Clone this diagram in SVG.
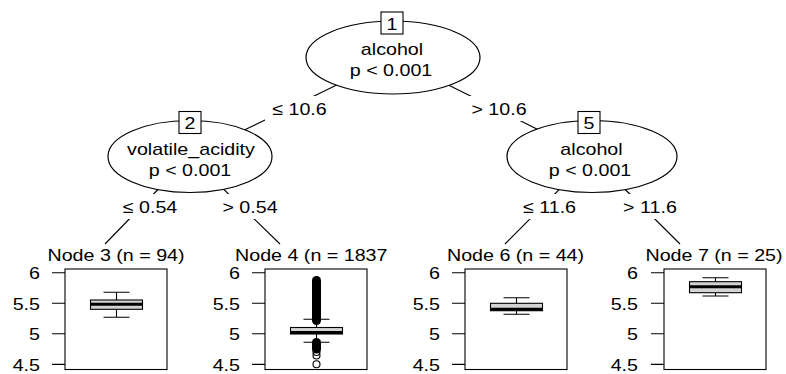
<svg xmlns="http://www.w3.org/2000/svg" width="786" height="374" viewBox="0 0 786 374">
<style>
.t{font-family:"Liberation Sans",Arial,Helvetica,sans-serif;font-size:17.2px;fill:#000}
.e{text-anchor:end}
.m{text-anchor:middle}
.ln{stroke:#000;stroke-width:1.1;fill:none}
.ell{fill:#fff;stroke:#000;stroke-width:1.2}
.nb{fill:#fff;stroke:#000;stroke-width:1.1}
.bg{fill:#fff}
.panel{fill:none;stroke:#000;stroke-width:1.1}
.iqr{fill:#d3d3d3;stroke:#000;stroke-width:1.1}
.med{stroke:#000;stroke-width:3}
.out{fill:none;stroke:#000;stroke-width:1.1}
.blob{stroke:#000;stroke-width:9;stroke-linecap:round}
</style>
<rect width="786" height="374" fill="#fff"/>
<g id="connectors">
  <line class="ln" x1="393" y1="57.5" x2="190" y2="156.5"/>
  <line class="ln" x1="393" y1="57.5" x2="592" y2="156.5"/>
  <line class="ln" x1="190" y1="156.5" x2="105" y2="244"/>
  <line class="ln" x1="190" y1="156.5" x2="280" y2="244"/>
  <line class="ln" x1="592" y1="156.5" x2="505" y2="244"/>
  <line class="ln" x1="592" y1="156.5" x2="680" y2="244"/>
  <g id="edge-labels">
    <rect class="bg" x="265" y="96" width="70" height="25"/>
    <text class="t m" transform="translate(299.5 115) scale(1.143 1)">≤ 10.6</text>
    <rect class="bg" x="466" y="96" width="66" height="25"/>
    <text class="t m" transform="translate(499 115) scale(1.143 1)">&gt; 10.6</text>
    <rect class="bg" x="119" y="194" width="62" height="25"/>
    <text class="t m" transform="translate(150 213) scale(1.143 1)">≤ 0.54</text>
    <rect class="bg" x="219" y="194" width="62" height="25"/>
    <text class="t m" transform="translate(250 213) scale(1.143 1)">&gt; 0.54</text>
    <rect class="bg" x="518" y="194" width="63" height="25"/>
    <text class="t m" transform="translate(549.5 213) scale(1.143 1)">≤ 11.6</text>
    <rect class="bg" x="619" y="194" width="62" height="25"/>
    <text class="t m" transform="translate(650 213) scale(1.143 1)">&gt; 11.6</text>
  </g>
</g>
<g id="node1">
  <ellipse class="ell" cx="393" cy="57.5" rx="87" ry="36.5"/>
  <rect class="nb" x="381" y="12" width="22" height="22"/>
  <text class="t m" transform="translate(392 29.5) scale(1.143 1)">1</text>
  <text class="t m" transform="translate(392 55) scale(1.143 1)">alcohol</text>
  <text class="t m" transform="translate(391 76) scale(1.143 1)">p &lt; 0.001</text>
</g>
<g id="node2">
  <ellipse class="ell" cx="190" cy="156.5" rx="82" ry="36"/>
  <rect class="nb" x="179" y="111.5" width="22" height="22"/>
  <text class="t m" transform="translate(190 128.5) scale(1.143 1)">2</text>
  <text class="t m" transform="translate(191 155) scale(1.143 1)">volatile_acidity</text>
  <text class="t m" transform="translate(190 175.5) scale(1.143 1)">p &lt; 0.001</text>
</g>
<g id="node5">
  <ellipse class="ell" cx="592" cy="156.5" rx="85" ry="36"/>
  <rect class="nb" x="578" y="111.5" width="22" height="22"/>
  <text class="t m" transform="translate(589 128.5) scale(1.143 1)">5</text>
  <text class="t m" transform="translate(591.5 155) scale(1.143 1)">alcohol</text>
  <text class="t m" transform="translate(590 176) scale(1.143 1)">p &lt; 0.001</text>
</g>
<g id="node3">
  <text class="t m" transform="translate(116 261) scale(1.143 1)">Node 3 (n = 94)</text>
  <rect class="panel" x="65" y="269" width="102" height="100.5"/>
  <path class="ln" d="M52 272.7H65M52 303.25H65M52 333.8H65M52 364.35H65"/>
  <text class="t e" transform="translate(40 279) scale(1.143 1)">6</text>
  <text class="t e" transform="translate(40 309.5) scale(1.143 1)">5.5</text>
  <text class="t e" transform="translate(40 340) scale(1.143 1)">5</text>
  <text class="t e" transform="translate(40 370.5) scale(1.143 1)">4.5</text>
  <path class="ln" d="M116.5 292.3V300M116.5 309.3V317.3M103.5 292.3H129.5M103.5 317.3H129.5"/>
  <rect class="iqr" x="90.5" y="300" width="52" height="9.3"/>
  <line class="med" x1="90.5" y1="304.3" x2="142.5" y2="304.3"/>
</g>
<g id="node4">
  <text class="t" transform="translate(235 261) scale(1.143 1)">Node 4 (n = 1837</text>
  <rect class="panel" x="265" y="269" width="102" height="100.5"/>
  <path class="ln" d="M252 272.7H265M252 303.25H265M252 333.8H265M252 364.35H265"/>
  <text class="t e" transform="translate(240 279) scale(1.143 1)">6</text>
  <text class="t e" transform="translate(240 309.5) scale(1.143 1)">5.5</text>
  <text class="t e" transform="translate(240 340) scale(1.143 1)">5</text>
  <text class="t e" transform="translate(240 370.5) scale(1.143 1)">4.5</text>
  <path class="ln" d="M316.5 319.3V327.5M316.5 334V342.3M303.5 319.3H329.5M303.5 342.3H329.5"/>
  <rect class="iqr" x="290.5" y="327.5" width="52" height="6.5"/>
  <line class="med" x1="290.5" y1="332.5" x2="342.5" y2="332.5"/>
  <line class="blob" x1="316.5" y1="280.5" x2="316.5" y2="320.5"/>
  <line class="blob" x1="316.5" y1="342.5" x2="316.5" y2="349"/>
  <circle class="out" cx="316.5" cy="352" r="3.5"/>
  <circle class="out" cx="316.5" cy="355.5" r="3.5"/>
  <circle class="out" cx="316.5" cy="364.3" r="3.5"/>
</g>
<g id="node6">
  <text class="t m" transform="translate(515.5 261) scale(1.143 1)">Node 6 (n = 44)</text>
  <rect class="panel" x="465" y="269" width="102" height="100.5"/>
  <path class="ln" d="M452 272.7H465M452 303.25H465M452 333.8H465M452 364.35H465"/>
  <text class="t e" transform="translate(440 279) scale(1.143 1)">6</text>
  <text class="t e" transform="translate(440 309.5) scale(1.143 1)">5.5</text>
  <text class="t e" transform="translate(440 340) scale(1.143 1)">5</text>
  <text class="t e" transform="translate(440 370.5) scale(1.143 1)">4.5</text>
  <path class="ln" d="M516.5 297.7V303.3M516.5 310.7V314.3M503.5 297.7H529.5M503.5 314.3H529.5"/>
  <rect class="iqr" x="490.5" y="303.3" width="52" height="7.4"/>
  <line class="med" x1="490.5" y1="309.3" x2="542.5" y2="309.3"/>
</g>
<g id="node7">
  <text class="t m" transform="translate(714 261) scale(1.143 1)">Node 7 (n = 25)</text>
  <rect class="panel" x="664" y="269" width="102" height="100.5"/>
  <path class="ln" d="M651 272.7H664M651 303.25H664M651 333.8H664M651 364.35H664"/>
  <text class="t e" transform="translate(638 279) scale(1.143 1)">6</text>
  <text class="t e" transform="translate(638 309.5) scale(1.143 1)">5.5</text>
  <text class="t e" transform="translate(638 340) scale(1.143 1)">5</text>
  <text class="t e" transform="translate(638 370.5) scale(1.143 1)">4.5</text>
  <path class="ln" d="M715.5 277.7V281.7M715.5 292.7V296M702.5 277.7H728.5M702.5 296H728.5"/>
  <rect class="iqr" x="689.5" y="281.7" width="52" height="11"/>
  <line class="med" x1="689.5" y1="286.7" x2="741.5" y2="286.7"/>
</g>
</svg>
